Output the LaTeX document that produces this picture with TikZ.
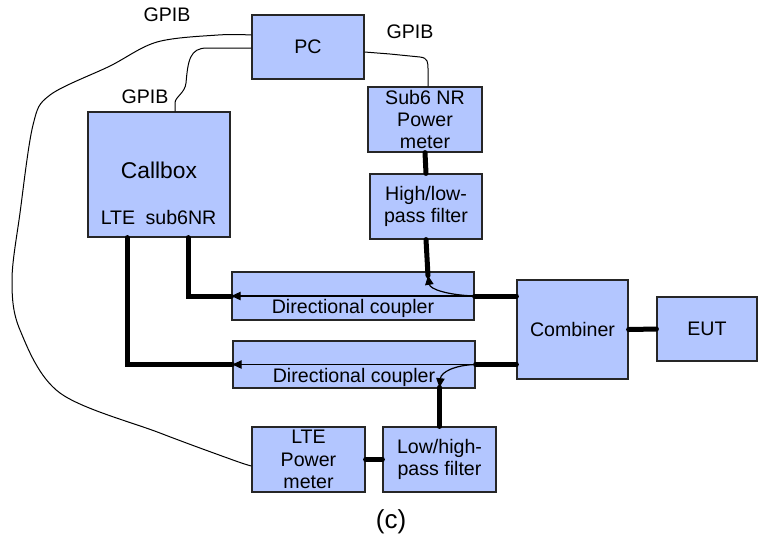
\documentclass[tikz,border=0pt]{standalone}
\usepackage{fontspec}
\setmainfont{Liberation Sans}
\usetikzlibrary{arrows.meta, calc}
\definecolor{boxblue}{RGB}{179,198,255}

\begin{document}
\begin{tikzpicture}[x=0.5pt, y=-0.5pt, >={Triangle[length=4.6pt, width=4.2pt]},
        blk/.style={draw=black!85, line width=0.6pt, fill=boxblue, inner sep=0pt, align=center,
            font=\fontsize{9.8}{11.2}\selectfont},
        lbl/.style={inner sep=0pt, font=\fontsize{9.8}{11.2}\selectfont},
        rf/.style={line width=2.5pt, line cap=round},
        gpib/.style={line width=0.5pt},
        sig/.style={line width=0.6pt, ->}]
        \useasboundingbox (0,0) rectangle (758,537);
        % instruments
        \node[blk, minimum width=56pt, minimum height=32pt] (pc) at (308,47) {PC};
        \node[blk, minimum width=57pt, minimum height=32.5pt] (subpm) at (425,119.5) {Sub6 NR\\Power\\meter};
        \node[blk, minimum width=56pt, minimum height=32.5pt] (hlf) at (426,206.5) {High/low-\\pass filter};
        \node[blk, minimum width=71pt, minimum height=62.5pt] (callbox) at (159,174.5) {};
        \node[lbl, font=\fontsize{11.4}{13}\selectfont] (cbname) at ($(callbox)+(0,-4.5)$) {Callbox};
        \node[lbl] (ltelbl) at ($(callbox)+(-41,43)$) {LTE};
        \node[lbl] (nrlbl) at ($(callbox)+(22,43)$) {sub6NR};
        % couplers, combiner, EUT
        \node[blk, minimum width=121pt, minimum height=24pt] (dc1) at (353,296) {};
        \node[lbl] (dc1lbl) at ($(dc1)+(0,12)$) {Directional coupler};
        \node[blk, minimum width=121pt, minimum height=23.5pt] (dc2) at (354,364.5) {};
        \node[lbl] (dc2lbl) at ($(dc2)+(0,12.5)$) {Directional coupler};
        \node[blk, minimum width=55.5pt, minimum height=49.5pt] (comb) at (572.5,329.5) {Combiner};
        \node[blk, minimum width=50pt, minimum height=32pt] (eut) at (707,329) {EUT};
        \node[blk, minimum width=56.5pt, minimum height=32.5pt] (ltepm) at (308.5,459.5) {LTE\\Power\\meter};
        \node[blk, minimum width=56.5pt, minimum height=32.5pt] (lhf) at (439.5,459.5) {Low/high-\\pass filter};
        \node[lbl, font=\fontsize{13}{15}\selectfont] (cap) at (391,522) {(c)};
        % GPIB labels
        \node[lbl] (gpib1) at (167,15) {GPIB};
        \node[lbl] (gpib2) at (410,32) {GPIB};
        \node[lbl] (gpib3) at (145,97) {GPIB};
        % port points
        \coordinate (pcA) at ($(pc.west)+(0,-12)$);
        \coordinate (pcB) at ($(pc.west)+(0,1)$);
        \coordinate (pcC) at ($(pc.east)+(0,5)$);
        \coordinate (cbtop) at ($(callbox.north)+(16,0)$);
        \coordinate (sptop) at ($(subpm.north)+(3,0)$);
        \coordinate (ltepmA) at ($(ltepm.west)+(0,6.5)$);
        \coordinate (lteport) at ($(callbox.south)+(-32,0)$);
        \coordinate (nrport) at ($(callbox.south)+(29,0)$);
        \coordinate (tap1) at ($(hlf.south)+(2,36)$);
        \coordinate (tap2) at ($(lhf.north)+(0,-39)$);
        % GPIB cables
        \draw[gpib] plot[smooth, tension=0.55] coordinates {(pcA) (218,35) (157,42) (110,66) (50,95)
            (33,125) (20,213) (12,280) (20,330) (60,393) (160,433) (233,460) (ltepmA)};
        \draw[gpib] (pcB) -- (207,48) .. controls (190,48) and (188,60) .. (186,83)
            .. controls (185,93) and (175,97) .. (175,103) -- (cbtop);
        \draw[gpib] (pcC) -- (390,54) -- (420,57) .. controls (428,58) and (428,62) .. (428,70) -- (sptop);
        % RF paths
        \draw[rf] (subpm.south) -- (hlf.north);
        \draw[rf] (hlf.south) -- (tap1);
        \draw[rf] (comb.west |- dc1.east) -- (dc1.east);
        \draw[sig] (dc1.east) -- (dc1.west);
        \draw[sig] (dc1.east) .. controls (447,295) and (430,289) .. (tap1);
        \draw[rf] (dc1.west) -- (nrport |- dc1.west) -- (nrport);
        \draw[rf] (comb.west |- dc2.east) -- (dc2.east);
        \draw[sig] (dc2.east) -- (dc2.west);
        \draw[sig] (dc2.east) .. controls (455,365) and (441,372) .. (tap2);
        \draw[rf] (dc2.west) -- (lteport |- dc2.west) -- (lteport);
        \draw[rf] (tap2) -- (lhf.north);
        \draw[rf] (ltepm.east) -- (lhf.west);
        \draw[rf] (comb.east) -- (eut.west);
\end{tikzpicture}
\end{document}
